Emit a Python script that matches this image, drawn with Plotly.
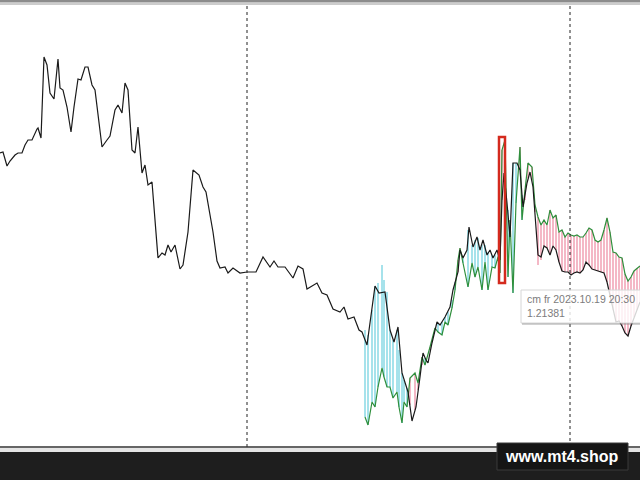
import plotly.graph_objects as go

# Main price line (bar position, price level)
price_x = [0, 3, 7, 10, 15, 18, 22, 25, 28, 32, 37, 38, 41, 42, 44, 47, 50, 54, 58, 60,
           63, 67, 71, 74, 78, 81, 85, 88, 92, 95, 102, 107, 110, 115, 118, 122, 125, 128, 132, 135,
           138, 142, 145, 148, 152, 158, 162, 165, 168, 171, 175, 180, 183, 188, 193, 199, 203, 206, 213, 217,
           220, 225, 228, 233, 240, 247, 256, 263, 270, 274, 278, 285, 293, 298, 303, 307, 317, 322, 327, 333,
           340, 344, 348, 354, 359, 362, 367, 375, 379, 385, 390, 394, 398, 402, 405, 408, 412, 416, 420, 423,
           426, 428, 432, 437, 440, 445, 450, 453, 458, 460, 463, 467, 469, 473, 477, 480, 483, 487, 490, 493,
           497, 500, 502, 504, 507, 510, 513, 517, 520, 523, 527, 530, 533,
           535, 538, 541, 544, 547, 550, 553, 556, 559, 562, 565, 568, 571, 574, 577, 580, 583, 586, 589, 592,
           595, 598, 601, 604, 607, 610, 613, 616, 619, 622, 625, 628, 631, 634, 637, 640]
price_y = [297, 298, 284, 289, 295, 297, 297, 305, 310, 310, 321, 322, 312, 343, 393, 385, 357, 351, 391, 362,
           360, 343, 318, 343, 371, 370, 383, 383, 365, 360, 303, 310, 314, 340, 345, 337, 367, 360, 300, 297,
           323, 277, 285, 265, 268, 192, 197, 195, 205, 198, 205, 181, 185, 218, 280, 275, 263, 258, 218, 189,
           182, 183, 177, 182, 177, 178, 178, 193, 183, 189, 183, 183, 172, 184, 181, 161, 167, 157, 155, 141,
           138, 143, 131, 133, 120, 118, 105, 164, 157, 158, 120, 108, 123, 77, 68, 58, 29, 43, 73, 97,
           90, 87, 107, 128, 125, 133, 143, 160, 178, 200, 192, 200, 223, 203, 213, 200, 210, 195, 200, 192,
           200, 190, 250, 277, 247, 213, 287, 287, 280, 243, 267, 278, 263,
           238, 195, 193, 204, 202, 195, 204, 200, 188, 179, 178, 178, 175, 177, 178, 177, 180, 188, 185, 181,
           180, 179, 178, 177, 168, 154, 140, 128, 129, 124, 117, 114, 124, 133, 140, 148]

# Signal line (green) and histogram levels at the same bar positions
signal_x = [365, 368, 372, 375, 378, 382, 384, 387, 390, 393, 397, 399, 402, 404, 407, 410, 415, 418, 422, 425,
            430, 435, 438, 442, 445, 448, 452, 455, 458, 460, 463, 468, 472, 475, 478, 482, 485, 488, 492, 495,
            498, 500, 502, 505, 508, 510, 513, 516, 520, 522, 525, 528, 532,
            535, 538, 541, 544, 547, 550, 553, 556, 559, 562, 565, 568, 571, 574, 577, 580, 583, 586, 589, 592,
            595, 598, 601, 604, 607, 610, 613, 616, 619, 622, 625, 628, 631, 634, 637, 640]
signal_y = [33, 25, 48, 43, 63, 82, 73, 63, 63, 52, 58, 43, 27, 48, 43, 72, 77, 67, 93, 85,
            103, 122, 118, 115, 128, 125, 142, 160, 190, 202, 187, 163, 187, 173, 183, 160, 188, 160, 183, 182,
            193, 177, 300, 310, 173, 230, 157, 247, 303, 230, 260, 287, 283,
            245, 233, 225, 230, 225, 240, 232, 235, 218, 220, 213, 217, 215, 214, 215, 213, 213, 217, 222, 220,
            210, 208, 210, 220, 232, 218, 198, 197, 193, 192, 176, 169, 173, 179, 182, 184]
hist_top = [120, 115, 140, 164, 167, 185, 170, 158, 120, 110, 120, 100, 77, 70, 62, 45, 40, 60, 85, 92,
            100, 120, 127, 128, 133, 138, 150, 168, 178, 200, 192, 220, 205, 210, 212, 205, 205, 198, 195, 195,
            197, 190, 250, 262, 240, 213, 287, 287, 280, 255, 250, 272, 270,
            238, 185, 190, 204, 202, 195, 204, 200, 188, 179, 178, 178, 175, 177, 178, 177, 180, 188, 185, 181,
            180, 179, 178, 177, 168, 154, 140, 128, 129, 124, 117, 114, 124, 133, 140, 148]

# Highlighted bar
mark_x = [499, 505]
mark_y = [167, 313]
# Vertical period separators
separators = [247, 570]

tooltip_time = "cm fr 2023.10.19 20:30"
tooltip_value = "1.21381"
watermark = "www.mt4.shop"

up_x, up_y, dn_x, dn_y = [], [], [], []
for x, g, t in zip(signal_x, signal_y, hist_top):
    if t >= g:
        up_x += [x, x, None]
        up_y += [g, t, None]
    else:
        dn_x += [x, x, None]
        dn_y += [g, t, None]

fig = go.Figure()
fig.add_trace(go.Scatter(x=up_x, y=up_y, mode="lines", line=dict(color="#a6e2eb", width=2),
                         hoverinfo="skip", showlegend=False))
fig.add_trace(go.Scatter(x=dn_x, y=dn_y, mode="lines", line=dict(color="#f4b8c6", width=2),
                         hoverinfo="skip", showlegend=False))
fig.add_trace(go.Scatter(x=signal_x, y=signal_y, mode="lines", line=dict(color="#2f8f3c", width=1.2),
                         showlegend=False))
fig.add_trace(go.Scatter(x=price_x, y=price_y, mode="lines", line=dict(color="#1a1a1a", width=1.2),
                         showlegend=False))

H = 480.0
W = 640.0
shapes = []
for s in separators:
    shapes.append(dict(type="line", xref="x", yref="paper", x0=s, x1=s, y0=33 / H, y1=1 - 6 / H,
                       line=dict(color="#222", width=1, dash="dot")))
shapes.append(dict(type="rect", xref="x", yref="y", x0=mark_x[0], x1=mark_x[1], y0=mark_y[0], y1=mark_y[1],
                   line=dict(color="#d42a1e", width=2.5)))
# tooltip box
shapes.append(dict(type="rect", xref="paper", yref="paper", x0=521 / W, x1=1.02, y0=1 - 323 / H, y1=1 - 290 / H,
                   line=dict(color="#d6d6d6", width=1), fillcolor="rgba(255,255,255,0.82)"))
shapes.append(dict(type="line", xref="paper", yref="paper", x0=522 / W, x1=1.0, y0=1 - 324 / H, y1=1 - 324 / H,
                   line=dict(color="rgba(120,120,120,0.45)", width=1.5)))
# window chrome
shapes.append(dict(type="rect", xref="paper", yref="paper", x0=0, x1=1, y0=1 - 2.5 / H, y1=1,
                   line=dict(width=0), fillcolor="#8c8c8c"))
shapes.append(dict(type="line", xref="paper", yref="paper", x0=0, x1=1, y0=1 - 4 / H, y1=1 - 4 / H,
                   line=dict(color="#9a9a9a", width=1)))
shapes.append(dict(type="rect", xref="paper", yref="paper", x0=0, x1=1, y0=0, y1=28 / H,
                   line=dict(width=0), fillcolor="#1e1e1e"))
shapes.append(dict(type="rect", xref="paper", yref="paper", x0=0, x1=1, y0=28 / H, y1=32 / H,
                   line=dict(width=0), fillcolor="#e4e4e4"))
shapes.append(dict(type="line", xref="paper", yref="paper", x0=0, x1=1, y0=33 / H, y1=33 / H,
                   line=dict(color="#333", width=1.5)))
# watermark box
shapes.append(dict(type="rect", xref="paper", yref="paper", x0=497 / W, x1=628 / W, y0=1 - 470 / H, y1=1 - 443 / H,
                   line=dict(color="#3a3a3a", width=1), fillcolor="#151515"))

annotations = [
    dict(xref="paper", yref="paper", x=525 / W, y=1 - 306 / H, xanchor="left", yanchor="middle",
         text=tooltip_time + "<br>" + tooltip_value, showarrow=False, align="left",
         font=dict(family="Liberation Sans, Arial", size=10.5, color="#7c7c7c")),
    dict(xref="paper", yref="paper", x=562 / W, y=1 - 456.5 / H, xanchor="center", yanchor="middle",
         text="<b>" + watermark + "</b>", showarrow=False,
         font=dict(family="Liberation Sans, Arial", size=16, color="#ffffff")),
]

fig.update_layout(
    width=640, height=480, margin=dict(l=0, r=0, t=0, b=0),
    paper_bgcolor="white", plot_bgcolor="white",
    xaxis=dict(range=[0, 640], showgrid=False, zeroline=False, showticklabels=False, fixedrange=True),
    yaxis=dict(range=[3, 446], domain=[33 / H, 1 - 4 / H], showgrid=False, zeroline=False,
               showticklabels=False, fixedrange=True),
    shapes=shapes, annotations=annotations, showlegend=False,
)

fig.write_html("out.html", config={"displayModeBar": False},
               post_script="document.body.style.margin='0';document.body.style.overflow='hidden';")
